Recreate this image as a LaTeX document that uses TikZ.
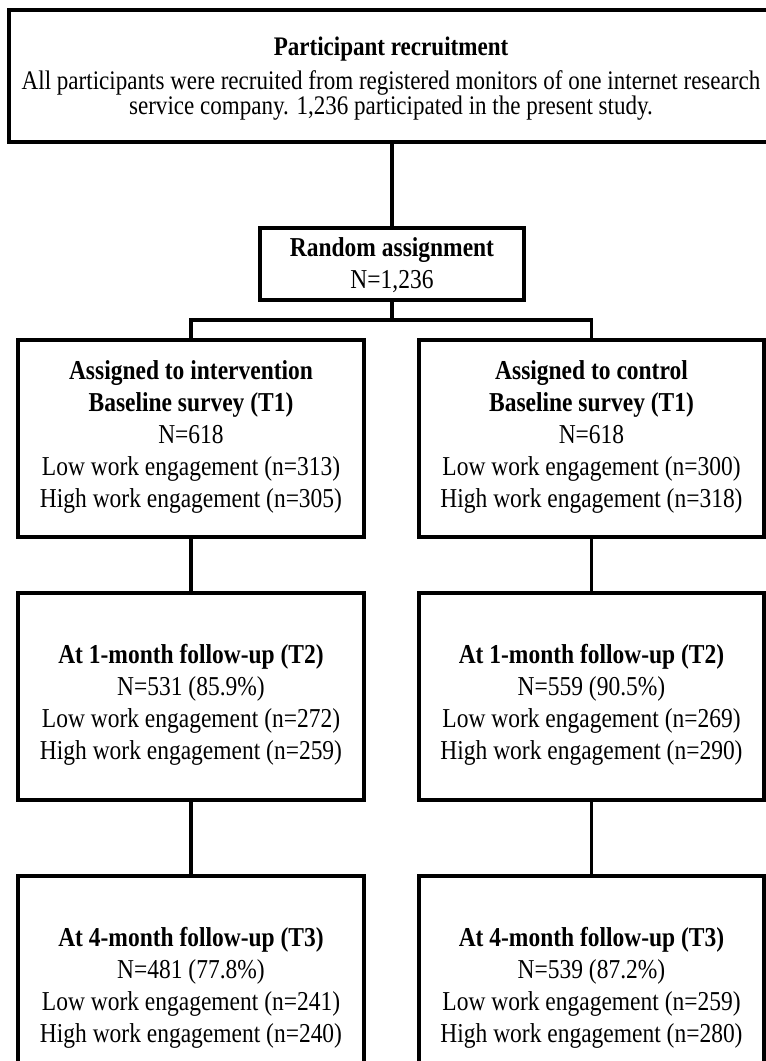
\documentclass[tikz,border=0pt]{standalone}
\usepackage{fontspec}
\setmainfont{Liberation Serif}[FakeStretch=0.86]
\begin{document}
\begin{tikzpicture}[x=1pt,y=-1pt,
  box/.style={draw, line width=3.2pt, inner sep=0pt},
  txt/.style={inner sep=0pt, align=center, font=\fontsize{27.3}{32}\selectfont},
  link/.style={line width=3.2pt}]
\useasboundingbox (0,0) rectangle (766,1061);
\clip (0,0) rectangle (766,1061);
% boxes
\node[box, minimum width=764pt, minimum height=132pt] (top) at (391,76) {};
\node[box, minimum width=264pt, minimum height=72pt] (rand) at (392,264) {};
\node[box, minimum width=346pt, minimum height=197pt] (t1l) at (191,438.5) {};
\node[box, minimum width=345pt, minimum height=197pt] (t1r) at (591.5,438.5) {};
\node[box, minimum width=346pt, minimum height=207pt] (t2l) at (191,696.5) {};
\node[box, minimum width=345pt, minimum height=207pt] (t2r) at (591.5,696.5) {};
\node[box, minimum width=346pt, minimum height=207pt] (t3l) at (191,979.5) {};
\node[box, minimum width=345pt, minimum height=207pt] (t3r) at (591.5,979.5) {};
% texts
\node[txt, font=\fontsize{26.8}{25}\selectfont] (topt) at ([yshift=-2.5pt]top.center)
  {\textbf{Participant recruitment}\\[9pt]All participants were recruited from registered monitors of one internet research\\service company. 1,236 participated in the present study.};
\node[txt] (randt) at ([yshift=-1.5pt]rand.center) {\textbf{Random assignment}\\N=1,236};
\node[txt] (t1lt) at ([yshift=2pt]t1l.center)
  {\textbf{Assigned to intervention}\\\textbf{Baseline survey (T1)}\\N=618\\Low work engagement (n=313)\\High work engagement (n=305)};
\node[txt] (t1rt) at ([yshift=2pt]t1r.center)
  {\textbf{Assigned to control}\\\textbf{Baseline survey (T1)}\\N=618\\Low work engagement (n=300)\\High work engagement (n=318)};
\node[txt] (t2lt) at ([yshift=-8.5pt]t2l.center)
  {\textbf{At 1-month follow-up (T2)}\\N=531 (85.9\%)\\Low work engagement (n=272)\\High work engagement (n=259)};
\node[txt] (t2rt) at ([yshift=-8.5pt]t2r.center)
  {\textbf{At 1-month follow-up (T2)}\\N=559 (90.5\%)\\Low work engagement (n=269)\\High work engagement (n=290)};
\node[txt] (t3lt) at ([yshift=-8.5pt]t3l.center)
  {\textbf{At 4-month follow-up (T3)}\\N=481 (77.8\%)\\Low work engagement (n=241)\\High work engagement (n=240)};
\node[txt] (t3rt) at ([yshift=-8.5pt]t3r.center)
  {\textbf{At 4-month follow-up (T3)}\\N=539 (87.2\%)\\Low work engagement (n=259)\\High work engagement (n=280)};
% connectors
\coordinate (bar) at (392,320);
\draw[link] (top.south -| rand.north) -- (rand.north);
\draw[link] (rand.south) -- (bar);
\draw[link] (t1l.north) |- (bar) -| (t1r.north);
\draw[link] (t1l.south) -- (t2l.north);
\draw[link] (t1r.south) -- (t2r.north);
\draw[link] (t2l.south) -- (t3l.north);
\draw[link] (t2r.south) -- (t3r.north);
\end{tikzpicture}
\end{document}
